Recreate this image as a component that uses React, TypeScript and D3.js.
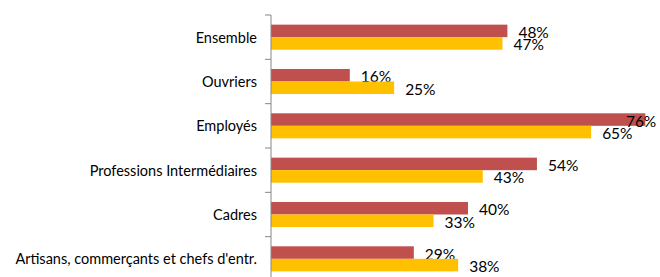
import React, { useEffect, useRef } from 'react';
import * as d3 from 'd3';

const categories = [
  'Ensemble',
  'Ouvriers',
  'Employés',
  'Professions Intermédiaires',
  'Cadres',
  "Artisans, commerçants et chefs d'entr.",
];
const seriesRed = [48, 16, 76, 54, 40, 29];
const seriesYellow = [47, 25, 65, 43, 33, 38];
const seriesKeys = ['red', 'yellow'];
const seriesColors = { red: '#C0504D', yellow: '#FFC000' };

const width = 660;
const height = 277;

const App = () => {
  const svgRef = useRef(null);

  useEffect(() => {
    const svg = d3.select(svgRef.current);
    svg.selectAll('*').remove();
    const axisX = 271;
    const font = 'Lato, "Open Sans", sans-serif';

    const x = d3.scaleLinear().domain([0, 80]).range([axisX, 665]);
    const y = d3.scaleBand().domain(categories).range([15, 281]).padding(0);
    const inner = d3.scaleBand().domain(seriesKeys).range([0, y.bandwidth()]).paddingInner(0).paddingOuter(0.77);

    const rows = categories.map((c, i) => ({ cat: c, red: seriesRed[i], yellow: seriesYellow[i] }));

    const groups = svg.selectAll('g.row')
      .data(rows)
      .enter()
      .append('g')
      .attr('class', 'row')
      .attr('transform', d => `translate(0, ${y(d.cat)})`);

    seriesKeys.forEach(k => {
      groups.append('rect')
        .attr('x', axisX)
        .attr('y', inner(k))
        .attr('width', d => x(d[k]) - axisX)
        .attr('height', inner.bandwidth())
        .attr('fill', seriesColors[k]);

      // value labels, pushed back inside the chart when they'd run off the edge
      groups.append('text')
        .attr('x', d => Math.min(x(d[k]) + 11, 658))
        .attr('y', inner(k) + inner.bandwidth() / 2 + 1)
        .attr('text-anchor', d => (x(d[k]) + 11 + 30 > 658 ? 'end' : 'start'))
        .attr('dominant-baseline', 'central')
        .attr('font-family', font)
        .attr('font-size', 15.5)
        .attr('fill', '#000')
        .text(d => `${d[k]}%`);
    });

    // category labels
    groups.append('text')
      .attr('x', 257)
      .attr('y', y.bandwidth() / 2)
      .attr('text-anchor', 'end')
      .attr('dominant-baseline', 'central')
      .attr('font-family', font)
      .attr('font-size', 14.5)
      .attr('fill', '#000')
      .text(d => d.cat);

    // axis line + ticks at band edges
    const edges = categories.map(c => y(c)).concat([y.range()[1]]);
    svg.append('line')
      .attr('x1', axisX).attr('x2', axisX)
      .attr('y1', 15).attr('y2', 281)
      .attr('stroke', '#868686').attr('stroke-width', 1);
    svg.selectAll('line.tick')
      .data(edges)
      .enter()
      .append('line')
      .attr('class', 'tick')
      .attr('x1', axisX - 6).attr('x2', axisX)
      .attr('y1', d => d).attr('y2', d => d)
      .attr('stroke', '#868686').attr('stroke-width', 1);
  }, []);

  return (
    <svg ref={svgRef} width={width} height={height}
      style={{ position: 'absolute', left: 0, top: 0, background: '#fff' }} />
  );
};

export default App;
